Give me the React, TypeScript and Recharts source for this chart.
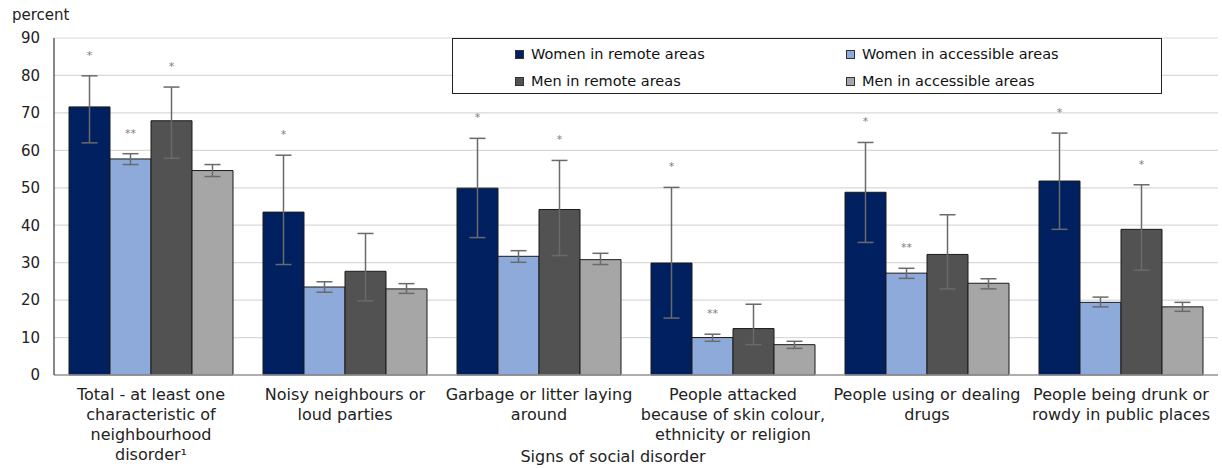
import React from "react";
import {
  BarChart,
  Bar,
  XAxis,
  YAxis,
  CartesianGrid,
  ErrorBar,
  Legend,
  LabelList,
  Label,
} from "recharts";

const categories = [
  "Total - at least one\ncharacteristic of\nneighbourhood\ndisorder¹",
  "Noisy neighbours or\nloud parties",
  "Garbage or litter laying\naround",
  "People attacked\nbecause of skin colour,\nethnicity or religion",
  "People using or dealing\ndrugs",
  "People being drunk or\nrowdy in public places",
];

const womenRemote = [71.6, 43.5, 49.9, 29.9, 48.8, 51.8];
const womenRemoteLow = [62.0, 29.5, 36.7, 15.2, 35.4, 38.9];
const womenRemoteHigh = [79.9, 58.7, 63.2, 50.1, 62.1, 64.6];
const womenRemoteStars = ["*", "*", "*", "*", "*", "*"];

const womenAccessible = [57.7, 23.5, 31.7, 10.0, 27.2, 19.4];
const womenAccessibleLow = [56.2, 22.1, 30.1, 9.0, 25.8, 18.2];
const womenAccessibleHigh = [59.1, 24.9, 33.2, 10.9, 28.5, 20.8];
const womenAccessibleStars = ["**", "", "", "**", "**", ""];

const menRemote = [67.9, 27.7, 44.2, 12.4, 32.2, 38.9];
const menRemoteLow = [57.9, 19.8, 31.9, 8.1, 23.0, 28.0];
const menRemoteHigh = [76.9, 37.8, 57.3, 18.9, 42.8, 50.8];
const menRemoteStars = ["*", "", "*", "", "", "*"];

const menAccessible = [54.6, 23.0, 30.8, 8.1, 24.5, 18.2];
const menAccessibleLow = [53.0, 21.8, 29.5, 7.1, 23.0, 17.0];
const menAccessibleHigh = [56.2, 24.4, 32.5, 9.0, 25.7, 19.4];
const menAccessibleStars = ["", "", "", "", "", ""];

const yTicks = [0, 10, 20, 30, 40, 50, 60, 70, 80, 90];

const FONT = "'DejaVu Sans', Verdana, sans-serif";
const PLOT_H = 337;
const PX_PER_UNIT = PLOT_H / 90;

const series = [
  { key: "wr", name: "Women in remote areas", color: "#002060", values: womenRemote, low: womenRemoteLow, high: womenRemoteHigh, stars: womenRemoteStars },
  { key: "wa", name: "Women in accessible areas", color: "#8eaadb", values: womenAccessible, low: womenAccessibleLow, high: womenAccessibleHigh, stars: womenAccessibleStars },
  { key: "mr", name: "Men in remote areas", color: "#525252", values: menRemote, low: menRemoteLow, high: menRemoteHigh, stars: menRemoteStars },
  { key: "ma", name: "Men in accessible areas", color: "#a6a6a6", values: menAccessible, low: menAccessibleLow, high: menAccessibleHigh, stars: menAccessibleStars },
];

const data = categories.map((name, i) => {
  const row: any = { name };
  series.forEach((s) => {
    row[s.key] = s.values[i];
    row[s.key + "Err"] = [s.values[i] - s.low[i], s.high[i] - s.values[i]];
    row[s.key + "Star"] = s.stars[i];
  });
  return row;
});

const CategoryTick = (props: any) => {
  const { x, y, payload } = props;
  const lines = String(payload.value).split("\n");
  return (
    <text x={x} y={y + 17} textAnchor="middle" fontSize={16} fontFamily={FONT} fill="#222">
      {lines.map((line, i) => (
        <tspan key={i} x={x} dy={i === 0 ? 0 : 20}>
          {line}
        </tspan>
      ))}
    </text>
  );
};

const makeStarLabel = (s: any) => (props: any) => {
  const { x, y, width, value, index } = props;
  if (!value) return null;
  const errPx = (s.high[index] - s.values[index]) * PX_PER_UNIT;
  return (
    <text x={x + width / 2} y={y - errPx - 17} textAnchor="middle" fontSize={11} fontFamily={FONT} fill="#808080">
      {value}
    </text>
  );
};

const renderLegend = () => (
  <div
    style={{
      position: "relative",
      boxSizing: "border-box",
      width: 710,
      height: 56,
      border: "1px solid #222",
      background: "#fff",
      fontFamily: FONT,
      fontSize: 14.5,
      color: "#111",
    }}
  >
    {series.map((s, i) => {
      const col = i % 2;
      const row = Math.floor(i / 2);
      return (
        <div
          key={s.key}
          style={{
            position: "absolute",
            left: 62 + col * 331,
            top: 5 + row * 27,
            height: 20,
            lineHeight: "20px",
            display: "flex",
            alignItems: "center",
            whiteSpace: "nowrap",
          }}
        >
          <span
            style={{
              display: "inline-block",
              width: 7,
              height: 7,
              background: s.color,
              border: "1px solid #333",
              marginRight: 7,
            }}
          />
          {s.name}
        </div>
      );
    })}
  </div>
);

export default function App() {
  return (
    <div style={{ position: "absolute", left: 0, top: 0, width: 1222, height: 468, background: "#fff" }}>
      <div
        style={{
          position: "absolute",
          left: 12,
          top: 6,
          fontFamily: FONT,
          fontSize: 15,
          lineHeight: "18px",
          color: "#222",
        }}
      >
        percent
      </div>
      <BarChart
        width={1222}
        height={468}
        data={data}
        margin={{ top: 38, right: 4, left: 0, bottom: 0 }}
        barCategoryGap={15}
        barGap={0}
      >
        <CartesianGrid vertical={false} stroke="#d9d9d9" strokeWidth={1.2} />
        <XAxis
          dataKey="name"
          height={93}
          tickLine={false}
          axisLine={{ stroke: "#9a9a9a", strokeWidth: 1.5 }}
          tick={<CategoryTick />}
          interval={0}
        >
          <Label
            value="Signs of social disorder"
            position="insideBottom"
            offset={6}
            dx={-23}
            style={{ fontSize: 16, fontFamily: FONT, fill: "#222" }}
          />
        </XAxis>
        <XAxis
          xAxisId="top"
          dataKey="name"
          orientation="top"
          height={0}
          tick={false}
          tickLine={false}
          axisLine={{ stroke: "#333" }}
        />
        <YAxis
          domain={[0, 90]}
          ticks={yTicks}
          width={54}
          tickLine={false}
          tickMargin={8}
          axisLine={{ stroke: "#111" }}
          tick={{ fontSize: 15, fontFamily: FONT, fill: "#222" }}
        />
        <YAxis
          yAxisId="right"
          orientation="right"
          domain={[0, 90]}
          width={0}
          tick={false}
          tickLine={false}
          axisLine={{ stroke: "#333" }}
        />
        <Legend
          layout="horizontal"
          verticalAlign="middle"
          align="center"
          content={renderLegend}
          wrapperStyle={{ position: "absolute", top: 38, left: 452, width: 710, height: 56 }}
        />
        {series.map((s) => (
          <Bar
            key={s.key}
            dataKey={s.key}
            name={s.name}
            fill={s.color}
            stroke="#1a1a1a"
            strokeWidth={1}
            isAnimationActive={false}
          >
            <ErrorBar
              dataKey={s.key + "Err"}
              width={8}
              stroke="#6a6a6a"
              strokeWidth={1.5}
              direction="y"
              isAnimationActive={false}
            />
            <LabelList dataKey={s.key + "Star"} content={makeStarLabel(s)} />
          </Bar>
        ))}
      </BarChart>
    </div>
  );
}
